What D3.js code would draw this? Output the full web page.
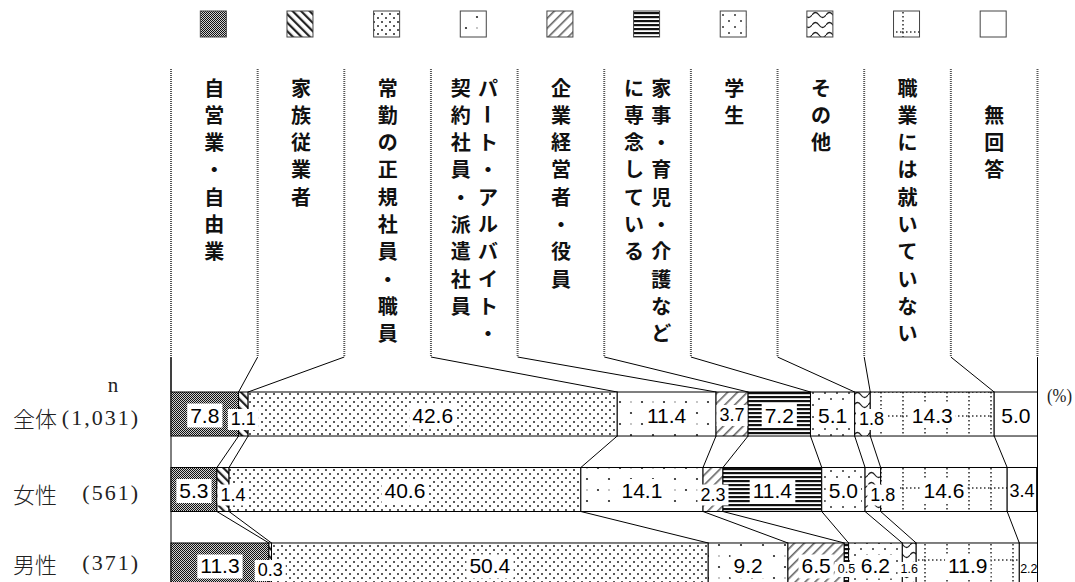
<!DOCTYPE html>
<html>
  <head>
    <meta charset="utf-8">
    <title>就業状況</title>
    <style>
      body { margin: 0; background: #fff; }
      svg { display: block; }
    </style>
  </head>
  <body>
    <svg id="chart" width="1075" height="582"></svg>
    <script src="https://d3js.org/d3.v7.min.js"></script>
    <script>
      // data
      const groups = ["全体", "女性", "男性"];
      const groupN = ["(1,031)", "(561)", "(371)"];
      const categories = [
        "自営業・自由業", "家族従業者", "常勤の正規社員・職員",
        "パート・アルバイト・契約社員・派遣社員", "企業経営者・役員",
        "家事・育児・介護などに専念している", "学生", "その他",
        "職業には就いていない", "無回答"
      ];
      // wrapped column headings (first line is the right-hand column)
      const columnLabelLines = [
        ["自営業・自由業"], ["家族従業者"], ["常勤の正規社員・職員"],
        ["パート・アルバイト・", "契約社員・派遣社員"], ["企業経営者・役員"],
        ["家事・育児・介護など", "に専念している"], ["学生"], ["その他"],
        ["職業には就いていない"], ["　無回答"]
      ];
      const valuesAll    = [7.8, 1.1, 42.6, 11.4, 3.7, 7.2, 5.1, 1.8, 14.3, 5.0];
      const valuesFemale = [5.3, 1.4, 40.6, 14.1, 2.3, 11.4, 5.0, 1.8, 14.6, 3.4];
      const valuesMale   = [11.3, 0.3, 50.4, 9.2, 6.5, 0.5, 6.2, 1.6, 11.9, 2.2];

      const rows = groups.map((g, i) => {
        const values = [valuesAll, valuesFemale, valuesMale][i];
        const ends = Array.from(d3.cumsum(values));
        return {
          group: g, n: groupN[i],
          segs: values.map((v, j) => ({ group: g, cat: j, value: v, x0: ends[j] - v, x1: ends[j] }))
        };
      });

      const svg = d3.select("#chart");
      const x = d3.scaleLinear().domain([0, 100]).range([171, 1037.5]);
      const y = d3.scaleBand().domain(groups).range([392, 587]).paddingInner(0.417);
      const colTop = 69, colBottom = 357;

      // patterns
      const defs = svg.append("defs");
      function pat(id, w, h, extra) {
        const p = defs.append("pattern").attr("id", id)
          .attr("patternUnits", "userSpaceOnUse").attr("width", w).attr("height", h);
        if (extra) p.attr("patternTransform", extra);
        p.append("rect").attr("width", w).attr("height", h).attr("fill", "#fff");
        return p;
      }
      let p;
      p = pat("p0", 2, 2);
      p.select("rect").attr("fill", "#d0d0d0");
      p.append("rect").attr("width", 1).attr("height", 1).attr("fill", "#111");
      p.append("rect").attr("x", 1).attr("y", 1).attr("width", 1).attr("height", 1).attr("fill", "#111");

      p = pat("p1", 6, 6, "rotate(-45)");
      p.append("rect").attr("width", 2.2).attr("height", 6).attr("fill", "#222");

      p = pat("p2", 8, 8);
      p.append("circle").attr("cx", 2).attr("cy", 2).attr("r", 1).attr("fill", "#222");
      p.append("circle").attr("cx", 6).attr("cy", 6).attr("r", 1).attr("fill", "#222");

      p = pat("p3", 22, 22);
      p.append("circle").attr("cx", 4).attr("cy", 6).attr("r", 1.1).attr("fill", "#222");
      p.append("circle").attr("cx", 15).attr("cy", 17).attr("r", 1.1).attr("fill", "#222");
      p.append("circle").attr("cx", 15).attr("cy", 6).attr("r", 0.9).attr("fill", "#aaa");

      p = pat("p4", 7, 7, "rotate(45)");
      p.append("rect").attr("width", 1.6).attr("height", 7).attr("fill", "#666");

      p = pat("p5", 4, 4);
      p.append("rect").attr("width", 4).attr("height", 2.2).attr("fill", "#111");

      p = pat("p6", 12, 12);
      p.append("circle").attr("cx", 3).attr("cy", 3).attr("r", 1).attr("fill", "#333");
      p.append("circle").attr("cx", 9).attr("cy", 9).attr("r", 1).attr("fill", "#333");

      p = pat("p7", 14, 10);
      p.append("path").attr("d", "M0,5 Q3.5,0 7,5 T14,5").attr("fill", "none")
        .attr("stroke", "#222").attr("stroke-width", 1.3);

      p = pat("p8", 22, 24);
      p.append("line").attr("x1", 1).attr("x2", 1).attr("y1", 0).attr("y2", 24)
        .attr("stroke", "#333").attr("stroke-width", 1.6).attr("stroke-dasharray", "1.5 2.5");
      p.append("line").attr("x1", 0).attr("x2", 22).attr("y1", 8).attr("y2", 8)
        .attr("stroke", "#333").attr("stroke-width", 1.6).attr("stroke-dasharray", "1.5 2.5");

      const fills = categories.map((c, i) => i === 9 ? "#fff" : `url(#p${i})`);

      // legend squares centered in each column
      const colCenter = i => (x(i * 10) + x(i * 10 + 10)) / 2;
      svg.append("g").selectAll("rect").data(categories).join("rect")
        .attr("x", (d, i) => colCenter(i) - 14)
        .attr("y", 11).attr("width", 26).attr("height", 26)
        .attr("fill", (d, i) => fills[i])
        .attr("stroke", "#444").attr("stroke-width", 1);

      // dotted column separators (11 lines)
      svg.append("g").selectAll("line").data(d3.range(11)).join("line")
        .attr("x1", i => x(i * 10)).attr("x2", i => x(i * 10))
        .attr("y1", colTop).attr("y2", colBottom)
        .attr("stroke", "#555").attr("stroke-width", 2).attr("stroke-dasharray", "1 1");

      // vertical column headings, one glyph at a time
      const pitch = 27.3;
      const heads = svg.append("g")
        .attr("font-family", "'Noto Sans CJK JP', sans-serif")
        .attr("font-weight", "bold").attr("font-size", 20).attr("fill", "#111");
      columnLabelLines.forEach((lines, i) => {
        lines.forEach((line, li) => {
          const cx = colCenter(i) + (lines.length - 1) / 2 * pitch - li * pitch;
          Array.from(line).forEach((ch, ci) => {
            const cy = 87 + ci * pitch;
            const t = heads.append("text").attr("x", cx).attr("y", cy)
              .attr("text-anchor", "middle").attr("dominant-baseline", "central").text(ch);
            if (ch === "ー") t.attr("transform", `rotate(90,${cx},${cy})`);
          });
        });
      });

      // frame lines left/right
      svg.append("line").attr("x1", x(0)).attr("x2", x(0)).attr("y1", colBottom).attr("y2", 582)
        .attr("stroke", "#000");
      svg.append("line").attr("x1", x(100)).attr("x2", x(100)).attr("y1", colBottom).attr("y2", 582)
        .attr("stroke", "#000");

      // leaders from column headings to first bar
      const top0 = y(groups[0]);
      svg.append("g").selectAll("line").data(rows[0].segs).join("line")
        .attr("x1", d => x(d.cat * 10)).attr("y1", colBottom)
        .attr("x2", d => x(d.x0)).attr("y2", top0)
        .attr("stroke", "#000").attr("stroke-width", 1);

      // connectors between bars
      for (let r = 0; r < rows.length - 1; r++) {
        const a = rows[r], b = rows[r + 1];
        svg.append("g").selectAll("line").data(a.segs.slice(1)).join("line")
          .attr("x1", d => x(d.x0)).attr("y1", y(a.group) + y.bandwidth())
          .attr("x2", (d, j) => x(b.segs[j + 1].x0)).attr("y2", y(b.group))
          .attr("stroke", "#000").attr("stroke-width", 1);
      }

      // bars
      const barG = svg.append("g").selectAll("g").data(rows).join("g");
      barG.selectAll("rect").data(d => d.segs).join("rect")
        .attr("x", d => x(d.x0))
        .attr("y", d => y(d.group))
        .attr("width", d => Math.max(0, x(Math.min(d.x1, 100)) - x(d.x0)))
        .attr("height", y.bandwidth())
        .attr("fill", d => fills[d.cat])
        .attr("stroke", "#000").attr("stroke-width", 1);

      // value labels with white boxes
      const tiny = { "男性": [5, 7, 9] };
      const nudge = { "女性|1": 10, "全体|7": 9, "女性|7": 10 };
      const labG = svg.append("g").attr("font-family", "'Liberation Sans', Arial, sans-serif").attr("fill", "#000");
      rows.forEach(row => {
        row.segs.forEach(s => {
          const isTiny = (tiny[s.group] || []).includes(s.cat);
          const size = isTiny ? 12.5 : (s.value < 4.5 ? 18 : 21);
          const cx = x((s.x0 + s.x1) / 2) + (nudge[s.group + "|" + s.cat] || 0);
          const cy = y(s.group) + y.bandwidth() / 2 + (!isTiny && s.value < 3 ? 5 : 1) + (isTiny ? 3 : 0);
          const g = labG.append("g");
          const t = g.append("text").attr("x", cx).attr("y", cy)
            .attr("text-anchor", "middle").attr("dominant-baseline", "central")
            .attr("font-size", size).text(d3.format(".1f")(s.value));
          const bb = t.node().getBBox();
          if (s.cat !== 9) {
            g.insert("rect", "text")
              .attr("x", bb.x - 3).attr("y", bb.y)
              .attr("width", bb.width + 6).attr("height", bb.height + 1)
              .attr("fill", "#fff");
          }
        });
      });

      // row labels
      const rowG = svg.append("g").attr("fill", "#222");
      rowG.append("text").attr("x", 113).attr("y", 385).attr("text-anchor", "middle")
        .attr("dominant-baseline", "central")
        .attr("font-family", "'Liberation Serif', serif").attr("font-size", 21).text("n");
      const rowDy = [3, 3, -2];
      rows.forEach((row, i) => {
        const cy = y(row.group) + y.bandwidth() / 2 + rowDy[i];
        rowG.append("text").attr("x", 13).attr("y", cy).attr("dominant-baseline", "central")
          .attr("font-family", "'Noto Sans CJK JP', sans-serif").attr("font-size", 22)
          .attr("font-weight", 300).text(row.group);
        rowG.append("text").attr("x", 140).attr("y", cy).attr("dominant-baseline", "central")
          .attr("text-anchor", "end")
          .attr("font-family", "'Liberation Serif', serif").attr("font-size", 22)
          .attr("letter-spacing", 2).text(row.n);
      });
      rowG.append("text").attr("x", 1047).attr("y", 395).attr("dominant-baseline", "central")
        .attr("font-family", "'Liberation Serif', serif").attr("font-size", 19)
        .attr("textLength", 25).attr("lengthAdjust", "spacingAndGlyphs").text("(%)");
    </script>
  </body>
</html>
